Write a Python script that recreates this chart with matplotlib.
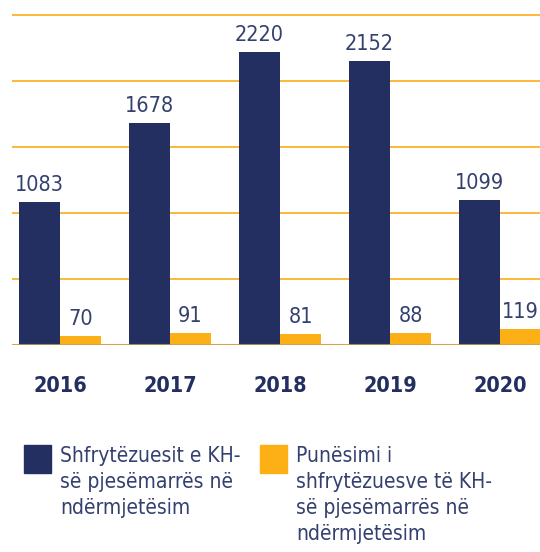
import matplotlib
matplotlib.use("Agg")
import numpy as np
import matplotlib.pyplot as plt
from matplotlib.patches import Rectangle

years = ["2016", "2017", "2018", "2019", "2020"]
participants = [1083, 1678, 2220, 2152, 1099]
employed = [70, 91, 81, 88, 119]
legend_labels = ["Shfrytëzuesit e KH-\nsë pjesëmarrës në\nndërmjetësim",
                 "Punësimi i\nshfrytëzuesve të KH-\nsë pjesëmarrës në\nndërmjetësim"]

navy = "#232F61"
label_col = "#34406F"
orange = "#FDB016"
grid_col = "#FBB22A"
plt.rcParams["font.family"] = ["DejaVu Sans"]
plt.rcParams["font.stretch"] = "condensed"

fig = plt.figure(figsize=(5.4, 5.52), dpi=100)
ax = fig.add_axes([12 / 540, 1 - 345 / 552, 528 / 540, 333 / 552])

x = np.arange(len(years))
w = 0.373
b1 = ax.bar(x - w / 2, participants, w, color=navy, zorder=2)
b2 = ax.bar(x + w / 2, employed, w, color=orange, zorder=2)

for bars, vals in ((b1, participants), (b2, employed)):
    for r, v in zip(bars, vals):
        ax.annotate(str(v), (r.get_x() + r.get_width() / 2, v),
                    xytext=(0, 5), textcoords="offset points",
                    ha="center", va="bottom", fontsize=15.5, color=label_col)

ax.set_ylim(0, 2520)
ax.set_xlim(-48 / 110, 4 + 40 / 110)
ax.set_yticks(np.arange(0, 2501, 500))
ax.yaxis.grid(True, color=grid_col, lw=1.3, zorder=1)
ax.axhline(0, color="#C9A050", lw=1.5, alpha=0.8, zorder=3)
ax.set_xticks(x)
ax.set_xticklabels(years, fontsize=15.5, fontweight="bold", color=navy)
ax.tick_params(axis="x", length=0, pad=22)
ax.tick_params(axis="y", length=0, labelleft=False)
for s in ax.spines.values():
    s.set_visible(False)

# legend drawn by hand so the swatch sits beside the first text line
for (sx, tx), col, lab in zip(((24, 60), (260, 296)), (navy, orange), legend_labels):
    fig.add_artist(Rectangle((sx / 540, 1 - 473 / 552), 27 / 540, 28 / 552,
                             transform=fig.transFigure, color=col))
    fig.text(tx / 540, 1 - 446 / 552, lab, ha="left", va="top", fontsize=15,
             color=label_col, linespacing=1.38)

fig.savefig("out.png", dpi=100)
